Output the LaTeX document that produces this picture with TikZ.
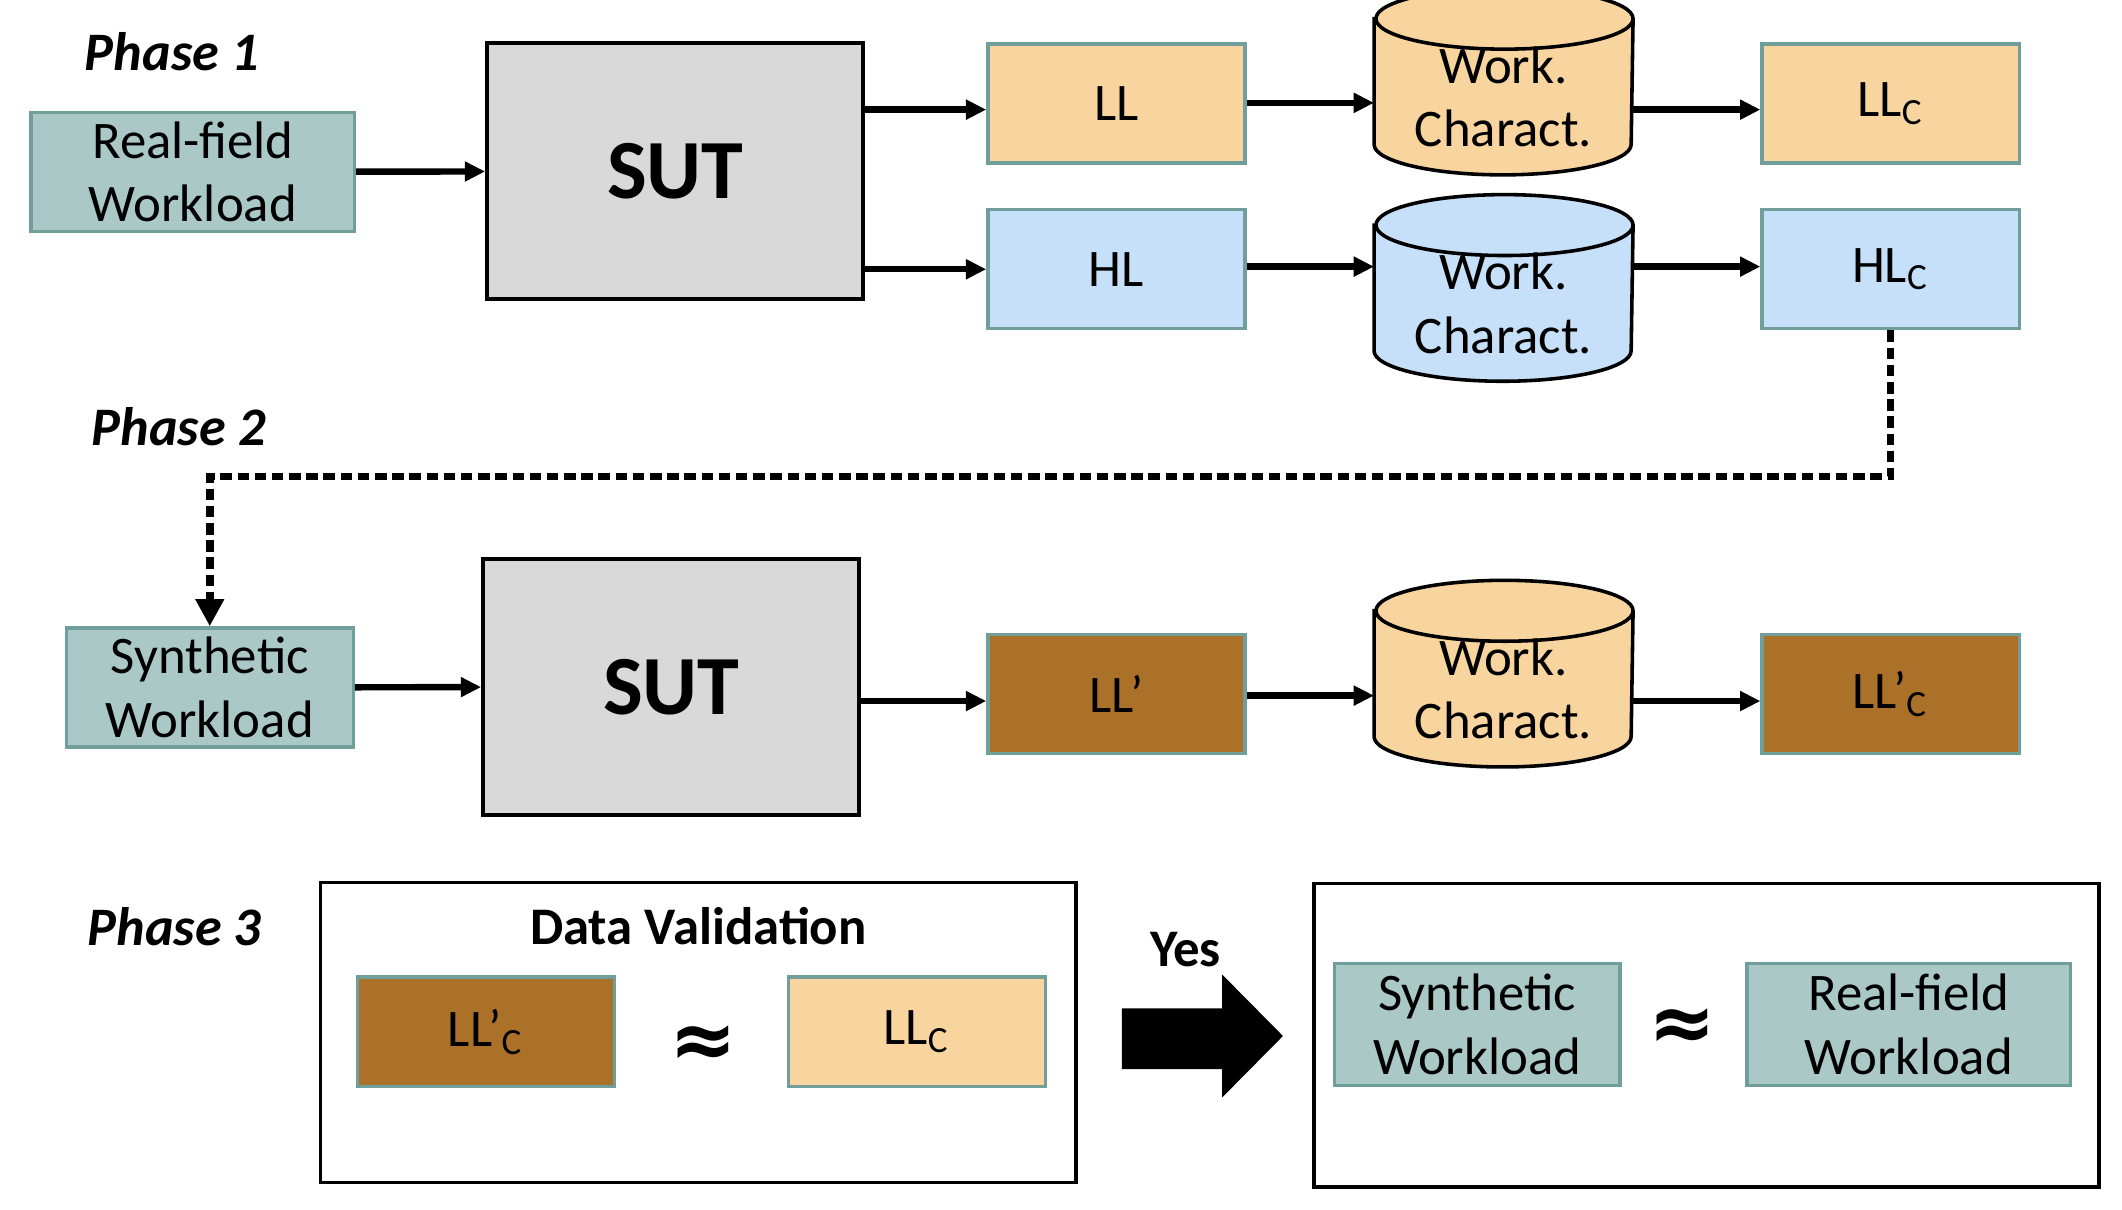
\documentclass[tikz,border=0pt]{standalone}
\usepackage{fontspec}
\setmainfont{Carlito}
\newfontfamily\symbfont{DejaVu Sans}
\usepackage{tikz}
\usetikzlibrary{%
    arrows.meta,
    backgrounds,
    positioning
}
\definecolor{wlfill}{RGB}{169,200,198}
\definecolor{tealline}{RGB}{112,158,154}
\definecolor{llfill}{RGB}{248,213,159}
\definecolor{hlfill}{RGB}{197,224,248}
\definecolor{lpfill}{RGB}{171,113,40}
\definecolor{sutfill}{RGB}{217,217,217}

\begin{document}
\begin{tikzpicture}[font=\fontsize{11.1}{13.4}\selectfont,
    >={Triangle[length=1.5mm,width=1.4mm]},
    flow/.style={->, line width=1.35pt},
    hint/.style={line width=1.6pt, dash pattern=on .85mm off .42mm, -{Triangle[length=2mm,width=2mm]}},
    wl/.style={draw=tealline, fill=wlfill, line width=.7pt, align=center, inner sep=0, minimum height=.88cm},
    lvl/.style={draw=tealline, line width=.7pt, inner sep=0, minimum width=1.9cm, minimum height=.88cm},
    sut/.style={draw, fill=sutfill, line width=.85pt, minimum width=2.78cm, minimum height=1.89cm, font=\fontsize{17.7}{20}\selectfont\bfseries},
    wc/.style={inner sep=0, minimum width=1.9cm, minimum height=1.14cm, align=center},
    cyl/.style={draw, line width=.75pt},
    phase/.style={font=\fontsize{11.4}{13.4}\selectfont\bfseries\itshape},
    frame/.style={draw, line width=.7pt, inner sep=0},
    apx/.style={font=\fontsize{17}{17}\symbfont\bfseries}]

      \useasboundingbox (0,0) rectangle (15.68,-8.94);

      \node[phase] (ph1) at (1.27,-.38) {Phase 1};
      \node[wl, minimum width=2.39cm] (rfw) at (1.425,-1.27) {Real-field\\Workload};
      \node[sut] (sut1) at (4.99,-1.265) {SUT};
      \node[lvl, fill=llfill] (ll) at (8.25,-.765) {LL};
      \node[lvl, fill=hlfill, below=.32 of ll] (hl) {HL};
      \node[wc] (wc1) at (11.11,-.715) {Work.\\Charact.};
      \node[wc] (wc2) at (11.11,-2.24) {Work.\\Charact.};
      \node[lvl, fill=llfill] (llc) at (13.97,-.765) {LL\textsubscript{C}};
      \node[lvl, fill=hlfill, below=.32 of llc] (hlc) {HL\textsubscript{C}};

      \node[phase] (ph2) at (1.32,-3.15) {Phase 2};
      \node[wl, minimum width=2.12cm] (syn) at (1.55,-5.08) {Synthetic\\Workload};
      \node[sut] (sut2) at (4.96,-5.075) {SUT};
      \node[lvl, fill=lpfill] (llp) at (8.25,-5.13) {LL’};
      \node[wc] (wc3) at (11.11,-5.09) {Work.\\Charact.};
      \node[lvl, fill=lpfill] (llpc) at (13.97,-5.13) {LL’\textsubscript{C}};
      \coordinate (bend) at (13.97,-3.52);

      \node[phase] (ph3) at (1.29,-6.85) {Phase 3};
      \node[frame, minimum width=5.58cm, minimum height=2.22cm] (dv) at (5.16,-7.63) {};
      \node[font=\fontsize{11.1}{13.4}\selectfont\bfseries] (dvt) at (5.16,-6.84) {Data Validation};
      \node[lvl, fill=lpfill, minimum height=.81cm] (llpc2) at (3.59,-7.625) {LL’\textsubscript{C}};
      \node[lvl, fill=llfill, minimum height=.81cm, right=1.26 of llpc2] (llc2) {LL\textsubscript{C}};
      \node[apx] (apx1) at (5.20,-7.73) {≈};
      \node[font=\fontsize{11.1}{13.4}\selectfont\bfseries] (yes) at (8.76,-7.02) {Yes};
      \node[frame, minimum width=5.8cm, minimum height=2.24cm] (res) at (12.61,-7.65) {};
      \node[wl, minimum width=2.11cm, minimum height=.9cm] (syn2) at (10.915,-7.57) {Synthetic\\Workload};
      \node[wl, minimum width=2.39cm, minimum height=.9cm] (rfw2) at (14.105,-7.57) {Real-field\\Workload};
      \node[apx] (apx2) at (12.43,-7.61) {≈};

      \fill (8.29,-7.45) -- (9.03,-7.45) -- (9.03,-7.2) -- (9.48,-7.655) -- (9.03,-8.11) -- (9.03,-7.9) -- (8.29,-7.9) -- cycle;

      \begin{scope}[on background layer]
        \draw[cyl, fill=llfill] (wc1.north west) -- ([yshift=.225cm]wc1.south west) arc[start angle=180, end angle=360, x radius=.95cm, y radius=.225cm] -- (wc1.north east) arc[start angle=0, end angle=180, x radius=.95cm, y radius=.225cm] -- cycle;
        \draw[cyl] (wc1.north east) arc[start angle=0, end angle=-180, x radius=.95cm, y radius=.225cm];
        \draw[cyl, fill=hlfill] (wc2.north west) -- ([yshift=.225cm]wc2.south west) arc[start angle=180, end angle=360, x radius=.95cm, y radius=.225cm] -- (wc2.north east) arc[start angle=0, end angle=180, x radius=.95cm, y radius=.225cm] -- cycle;
        \draw[cyl] (wc2.north east) arc[start angle=0, end angle=-180, x radius=.95cm, y radius=.225cm];
        \draw[cyl, fill=llfill] (wc3.north west) -- ([yshift=.225cm]wc3.south west) arc[start angle=180, end angle=360, x radius=.95cm, y radius=.225cm] -- (wc3.north east) arc[start angle=0, end angle=180, x radius=.95cm, y radius=.225cm] -- cycle;
        \draw[cyl] (wc3.north east) arc[start angle=0, end angle=-180, x radius=.95cm, y radius=.225cm];
      \end{scope}

      \draw[flow] (rfw) -- (sut1);
      \draw[flow] (sut1.east |- 0,-.81) -- (ll.west |- 0,-.81);
      \draw[flow] (sut1.east |- hl) -- (hl);
      \draw[flow] (ll.east |- 0,-.76) -- (wc1.west |- 0,-.76);
      \draw[flow] (hl.east |- 0,-1.97) -- (wc2.west |- 0,-1.97);
      \draw[flow] (wc1.east |- 0,-.81) -- (llc.west |- 0,-.81);
      \draw[flow] (wc2.east |- 0,-1.97) -- (hlc.west |- 0,-1.97);

      \draw[hint] (hlc.south) -- (bend) -| (syn.north);

      \draw[flow] (syn) -- (sut2);
      \draw[flow] (sut2.east |- 0,-5.18) -- (llp.west |- 0,-5.18);
      \draw[flow] (llp.east |- 0,-5.14) -- (wc3.west |- 0,-5.14);
      \draw[flow] (wc3.east |- 0,-5.18) -- (llpc.west |- 0,-5.18);
    \end{tikzpicture}
\end{document}
